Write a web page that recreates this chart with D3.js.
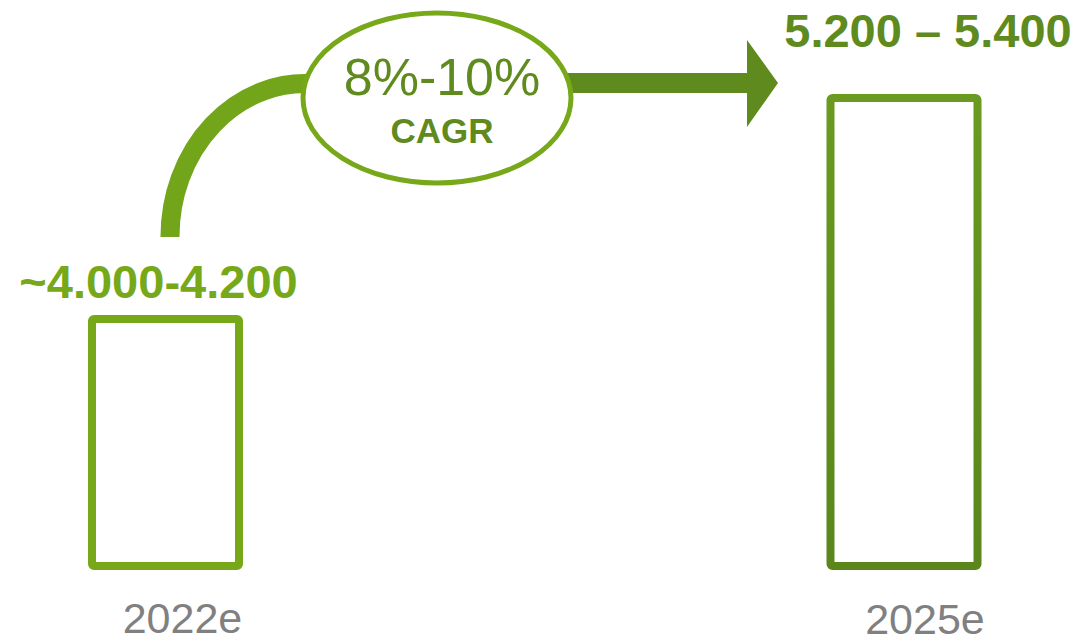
<!DOCTYPE html>
<html>
<head>
<meta charset="utf-8">
<script src="https://cdn.jsdelivr.net/npm/d3@7"></script>
<style>
  body { margin: 0; background: #fff; }
  text { font-family: "Liberation Sans", Arial, sans-serif; }
</style>
</head>
<body>
<script>
// data
var categories = ["2022e", "2025e"];
var values = [4100, 5300];           // mid of the ranges, for bar height
var valueLabels = ["~4.000-4.200", "5.200 \u2013 5.400"];
var cagrText = "8%-10%";
var cagrSub = "CAGR";

var svgWidth = 1081, svgHeight = 644;
var light = "#76a81a", dark = "#5f8a1e";

var svg = d3.select("body").append("svg")
    .attr("width", svgWidth).attr("height", svgHeight);

// scales
var xScale = d3.scalePoint().domain(categories).range([165.5, 904]);
var yScale = d3.scaleLinear().domain([2760, 5300]).range([566, 98]);
var barW = 147;

var defs = svg.append("defs");
var grad = defs.append("linearGradient").attr("id", "barGrad")
    .attr("x1", 0).attr("y1", 0).attr("x2", 0).attr("y2", 1);
grad.append("stop").attr("offset", "0%").attr("stop-color", "#6a9a1f");
grad.append("stop").attr("offset", "100%").attr("stop-color", "#5b861c");

// bars (outline only)
svg.selectAll("rect.bar")
    .data(values)
    .enter().append("rect")
    .attr("class", "bar")
    .attr("x", (d, i) => xScale(categories[i]) - barW / 2)
    .attr("y", d => yScale(d))
    .attr("width", barW)
    .attr("height", d => yScale.range()[0] - yScale(d))
    .attr("rx", 2)
    .attr("fill", "none")
    .attr("stroke", (d, i) => i == 0 ? light : "url(#barGrad)")
    .attr("stroke-width", 8);

// value labels above bars
var labelDx = [-7, 24];
var labelDy = [-21, -51];
svg.selectAll("text.val")
    .data(valueLabels)
    .enter().append("text")
    .attr("class", "val")
    .attr("x", (d, i) => xScale(categories[i]) + labelDx[i])
    .attr("y", (d, i) => yScale(values[i]) + labelDy[i])
    .attr("text-anchor", "middle")
    .attr("font-size", 47)
    .attr("font-weight", "bold")
    .attr("fill", (d, i) => i == 0 ? light : dark)
    .text(d => d);

// category labels
svg.selectAll("text.cat")
    .data(categories)
    .enter().append("text")
    .attr("class", "cat")
    .attr("x", (d, i) => xScale(d) + (i == 0 ? 17 : 21))
    .attr("y", (d, i) => i == 0 ? 633 : 634)
    .attr("text-anchor", "middle")
    .attr("font-size", 43)
    .attr("fill", "#808080")
    .text(d => d);

// curved arrow from first bar up into the ellipse
svg.append("path")
    .attr("d", "M170,237 A135 153 0 0 1 315 84")
    .attr("fill", "none")
    .attr("stroke", "#72a519")
    .attr("stroke-width", 19);

// straight arrow to the second bar
svg.append("path")
    .attr("d", "M550,73 L747,73 L747,40 L778,83 L747,127 L747,93 L550,93 Z")
    .attr("fill", dark);

// CAGR ellipse
var cx = 437, cy = 98;
svg.append("ellipse")
    .attr("cx", cx).attr("cy", cy)
    .attr("rx", 134).attr("ry", 85)
    .attr("fill", "#fff")
    .attr("stroke", light)
    .attr("stroke-width", 5);

svg.append("text")
    .attr("x", 442).attr("y", 95)
    .attr("text-anchor", "middle")
    .attr("font-size", 52)
    .attr("fill", dark)
    .text(cagrText);

svg.append("text")
    .attr("x", 442).attr("y", 143)
    .attr("text-anchor", "middle")
    .attr("font-size", 35)
    .attr("font-weight", "bold")
    .attr("fill", dark)
    .text(cagrSub);
</script>
</body>
</html>
